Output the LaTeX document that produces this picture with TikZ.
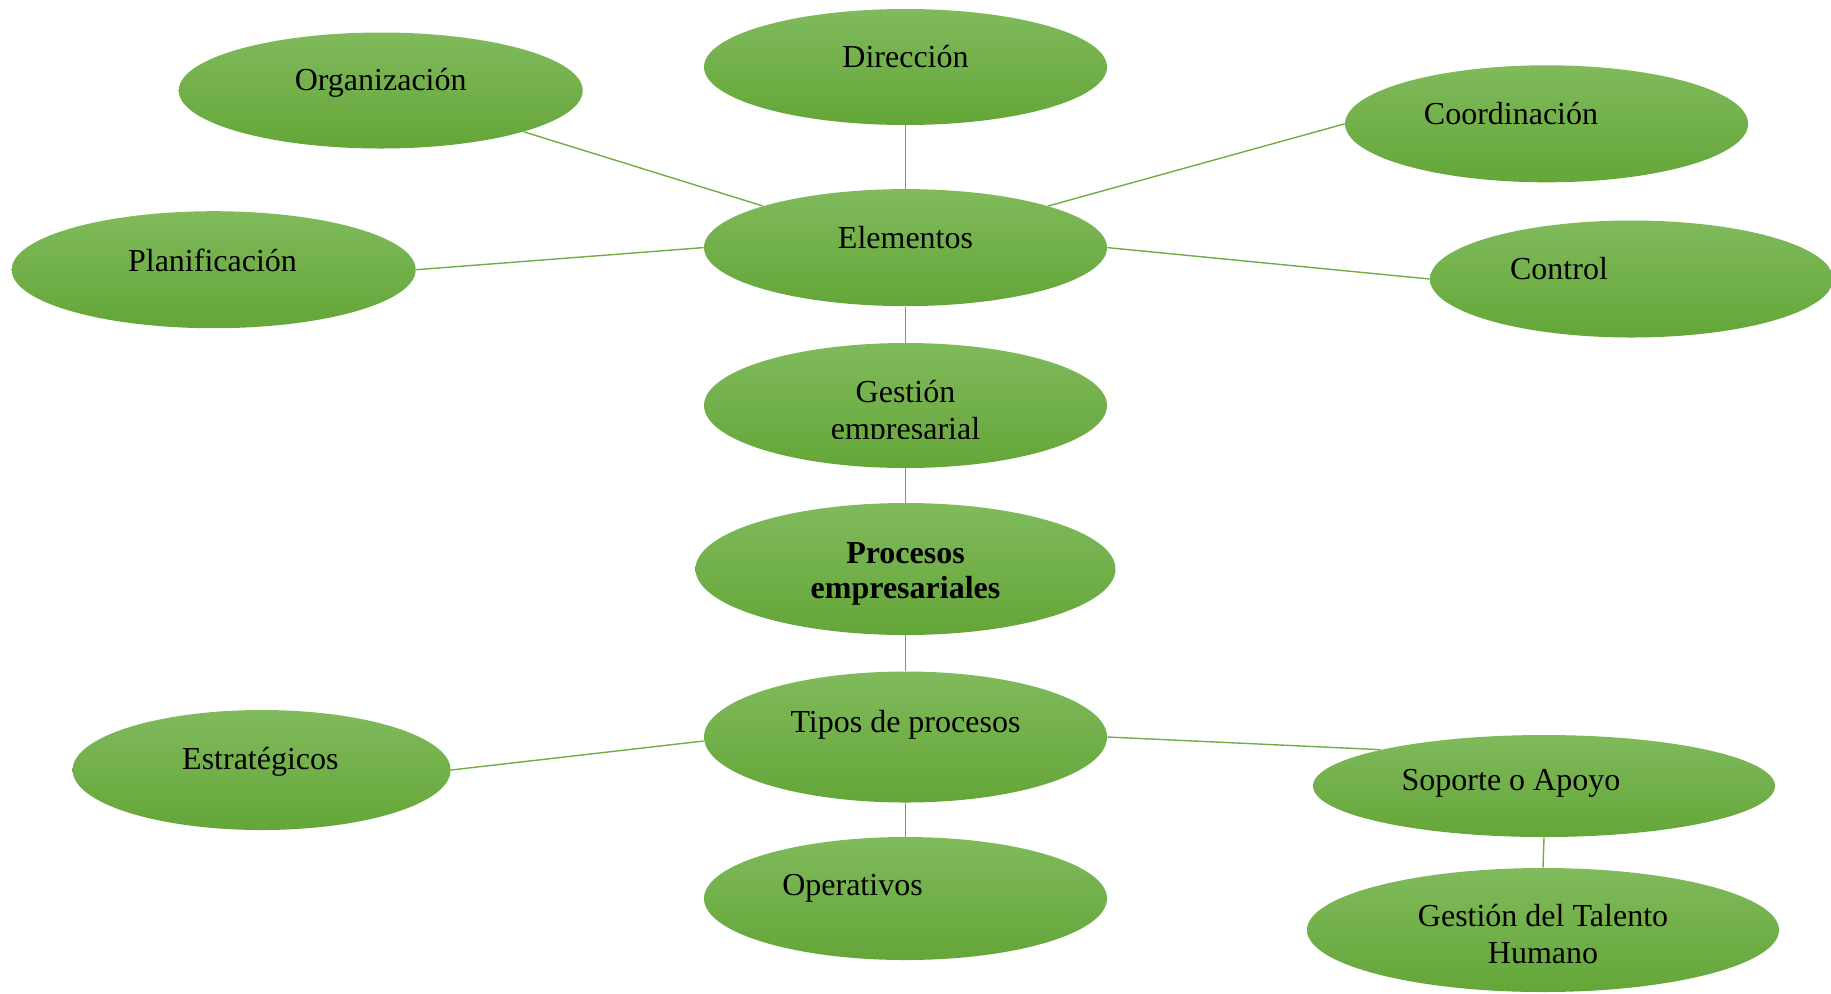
\documentclass[tikz,border=0pt]{standalone}
\usepackage{fontspec}
\setmainfont{Liberation Serif}
\usetikzlibrary{shapes.geometric}

\definecolor{leaftop}{RGB}{128,186,92}
\definecolor{leafbot}{RGB}{100,166,56}
\definecolor{leafline}{RGB}{112,173,71}

% sizes are given in pixels of the original (1px = 0.5pt)
\tikzset{
	blob/.style 2 args={ellipse, inner sep=0pt, draw=none, top color=leaftop, bottom color=leafbot,
		minimum width=#1*0.5pt, minimum height=#2*0.5pt},
	txt/.style={font=\fontsize{16}{18.5}\selectfont, align=center, inner sep=0pt},
	link/.style={leafline, line width=0.7pt}
}

\begin{document}
\begin{tikzpicture}[x=0.5pt, y=-0.5pt]
		
		\useasboundingbox (0,0) rectangle (1831,993);
		
		% Ellipses
		\node[blob={404}{116}] (org) at (380.7,90.5) {};
		\node[blob={403}{116}] (dir) at (905.5,67) {};
		\node[blob={403}{117}] (coord) at (1546.6,123.8) {};
		\node[blob={403}{117}] (elem) at (905.5,247.6) {};
		\node[blob={404}{117}] (plan) at (213.7,269.7) {};
		\node[blob={403}{117}] (ctrl) at (1631.5,279) {};
		\node[blob={403}{125}] (gest) at (905.5,405.5) {};
		\node[blob={420}{132}] (proc) at (905.5,569) {};
		\node[blob={403}{131}] (tipos) at (905.5,737) {};
		\node[blob={378}{120}] (estr) at (261.6,770) {};
		\node[blob={462}{102}] (sop) at (1544,786) {};
		\node[blob={403}{123}] (oper) at (905.5,898.5) {};
		\node[blob={472}{124}] (gth) at (1543,930) {};
		
		% Lines between ellipses
		\draw[link] (org.south east) -- (elem.north west);
		\draw[link] (dir.south) -- (elem.north);
		\draw[link] (elem.north east) -- (coord.west);
		\draw[link] (plan.east) -- (elem.west);
		\draw[link] (elem.east) -- (ctrl.west);
		\draw[link] (elem.south) -- (gest.north);
		\draw[link] (gest.south) -- (proc.north);
		\draw[link] (proc.south) -- (tipos.north);
		\draw[link] (estr.east) -- ([yshift=-2pt]tipos.west);
		\draw[link] (tipos.east) -- (sop.north west);
		\draw[link] (tipos.south) -- (oper.north);
		\draw[link] (sop.south) -- (gth.north);
		
		% Labels
		\node[txt] (org-t) at (380.7,83) {Organización};
		\node[txt] (dir-t) at (905.5,57) {Dirección};
		\node[txt] (coord-t) at (1511,114) {Coordinación};
		\node[txt] (elem-t) at (905.5,238) {Elementos};
		\node[txt] (plan-t) at (212.5,260) {Planificación};
		\node[txt] (ctrl-t) at (1559,269) {Control};
		\begin{scope}
			\clip (690,340) rectangle (1120,438);
			\node[txt] (gest-t) at (905.5,413) {Gestión\\empresarial};
		\end{scope}
		\node[txt, font=\fontsize{16}{17.5}\selectfont\bfseries] (proc-t) at (905.5,573.5) {Procesos\\empresariales};
		\node[txt] (tipos-t) at (905.5,725) {Tipos de procesos};
		\node[txt] (estr-t) at (260.4,761.5) {Estratégicos};
		\node[txt] (sop-t) at (1511,783.5) {Soporte o Apoyo};
		\node[txt] (oper-t) at (852.5,888.5) {Operativos};
		\node[txt] (gth-t) at (1543,934) {Gestión del Talento\\Humano};
	\end{tikzpicture}
\end{document}
